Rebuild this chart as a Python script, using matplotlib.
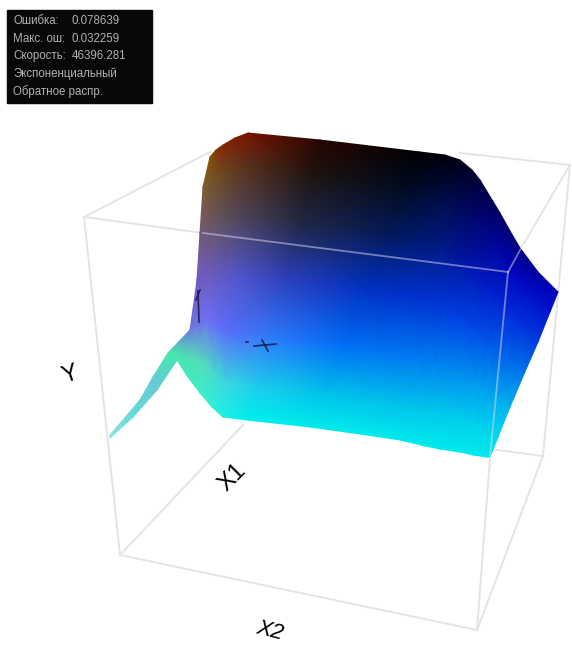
import numpy as np
import matplotlib
matplotlib.use('Agg')
import matplotlib.pyplot as plt

# info panel lines
info_labels = ['Ошибка:', 'Макс. ош:', 'Скорость:', 'Экспоненциальный', 'Обратное распр.']
info_values = ['0.078639', '0.032259', '46396.281', '', '']

# surface as seen on screen, one list per column, far edge first
surf_x = [
    [210, 203, 200, 197, 190, 168, 177],
    [216, 211, 208, 204, 198, 185, 188],
    [223, 220, 216, 212, 207, 203, 200],
    [235, 232, 228, 224, 218, 214, 212],
    [248, 245, 240, 236, 230, 226, 223],
    [320, 311, 298, 284, 269, 256, 247],
    [420, 407, 387, 365, 343, 323, 310],
    [445, 430, 414, 397, 380, 365, 360],
    [460, 453, 442, 430, 418, 407, 400],
    [472, 464, 455, 445, 435, 426, 425],
    [480, 475, 468, 460, 452, 445, 440],
    [500, 496, 490, 482, 475, 469, 465],
    [510, 505, 499, 491, 483, 477, 473],
    [520, 515, 508, 500, 492, 485, 480],
    [538, 532, 523, 512, 501, 491, 486],
    [558, 550, 538, 524, 510, 498, 490],
]
surf_y = [
    [157, 187, 233, 280, 330, 353, 360],
    [150, 181, 226, 274, 325, 358, 377],
    [145, 175, 219, 269, 319, 363, 393],
    [138, 171, 218, 272, 325, 373, 407],
    [133, 167, 218, 275, 332, 383, 417],
    [140, 174, 224, 280, 336, 386, 420],
    [152, 185, 234, 290, 345, 394, 427],
    [155, 189, 239, 295, 350, 400, 434],
    [160, 194, 244, 300, 356, 406, 440],
    [170, 203, 252, 307, 362, 411, 446],
    [180, 212, 261, 314, 368, 417, 449],
    [213, 242, 285, 333, 381, 424, 453],
    [231, 257, 297, 342, 387, 427, 455],
    [248, 273, 310, 352, 394, 431, 456],
    [272, 292, 326, 363, 400, 434, 457],
    [292, 312, 342, 374, 407, 437, 457],
]
surf_r = [
    [135, 125, 115, 115, 110, 70, 70],
    [132, 117, 107, 110, 110, 78, 65],
    [130, 110, 100, 105, 110, 85, 60],
    [125, 100, 90, 95, 97, 72, 45],
    [120, 90, 80, 85, 85, 60, 30],
    [40, 30, 35, 45, 50, 30, 0],
    [0, 0, 5, 0, 0, 0, 0],
    [0, 0, 0, 0, 0, 0, 0],
    [0, 0, 0, 0, 0, 0, 0],
    [0, 0, 0, 0, 0, 0, 0],
    [0, 0, 0, 0, 0, 0, 0],
    [0, 0, 0, 0, 0, 0, 0],
    [0, 0, 0, 0, 0, 0, 0],
    [0, 0, 0, 0, 0, 0, 0],
    [0, 0, 0, 0, 0, 0, 0],
    [0, 0, 0, 0, 0, 0, 0],
]
surf_g = [
    [85, 95, 90, 90, 120, 235, 225],
    [62, 85, 87, 90, 115, 227, 232],
    [40, 75, 85, 90, 110, 220, 240],
    [30, 62, 77, 87, 110, 217, 240],
    [20, 50, 70, 85, 110, 215, 240],
    [5, 20, 40, 65, 120, 205, 240],
    [0, 10, 25, 50, 110, 195, 235],
    [0, 10, 25, 50, 115, 195, 235],
    [0, 10, 25, 50, 120, 195, 235],
    [0, 7, 22, 55, 127, 200, 235],
    [0, 5, 20, 60, 135, 205, 235],
    [0, 5, 25, 75, 150, 210, 235],
    [0, 5, 32, 85, 157, 212, 235],
    [0, 5, 40, 95, 165, 215, 235],
    [0, 12, 50, 107, 172, 215, 235],
    [0, 20, 60, 120, 180, 215, 235],
]
surf_b = [
    [0, 50, 115, 200, 220, 170, 190],
    [2, 42, 102, 190, 232, 177, 195],
    [5, 35, 90, 180, 245, 185, 200],
    [2, 32, 90, 190, 247, 205, 215],
    [0, 30, 90, 200, 250, 225, 230],
    [0, 15, 70, 190, 250, 235, 235],
    [5, 30, 90, 195, 245, 235, 235],
    [12, 50, 110, 202, 242, 235, 235],
    [20, 70, 130, 210, 240, 235, 235],
    [40, 85, 147, 217, 240, 235, 235],
    [60, 100, 165, 225, 240, 235, 235],
    [100, 150, 200, 230, 240, 235, 235],
    [115, 170, 207, 232, 240, 235, 235],
    [130, 190, 215, 235, 240, 235, 235],
    [160, 197, 220, 235, 240, 235, 235],
    [190, 205, 225, 235, 240, 235, 235],
]

# thin tail on the left of the surface
tail_x = [[110, 140, 153, 168], [110, 133, 157, 177]]
tail_y = [[435, 400, 377, 353], [438, 417, 390, 360]]
tail_r = [[150, 105, 100, 70], [130, 90, 110, 70]]
tail_g = [[225, 210, 205, 235], [230, 225, 200, 225]]
tail_b = [[220, 215, 210, 170], [220, 215, 215, 190]]

# bounding box edges behind and in front of the surface
back_edges = [
    ((84, 217), (210, 152)),
    ((460, 153), (570, 165)),
    ((570, 165), (543, 456)),
    ((490, 449), (543, 456)),
    ((120, 555), (243, 425)),
    ((84, 217), (120, 555)),
    ((120, 555), (477, 630)),
    ((477, 630), (543, 456)),
    ((84, 217), (203, 233)),
    ((490, 458), (477, 630)),
    ((524, 243), (570, 165)),
]
front_edges = [
    ((203, 233), (508, 272)),
    ((508, 272), (490, 457)),
    ((508, 272), (524, 243)),
]

# dark specks on the surface
specks = [
    ((198, 291), (199, 322)),
    ((196, 300), (200, 290)),
    ((254, 346), (276, 344)),
    ((262, 340), (268, 351)),
    ((246, 342), (248, 342)),
]


def rgb(r, g, b):
    return np.dstack([r, g, b]) / 255.0


fig = plt.figure(figsize=(5.72, 6.45), dpi=100)
ax = fig.add_axes([0, 0, 1, 1])
ax.set_xlim(0, 572)
ax.set_ylim(645, 0)
ax.axis('off')

for a, b in back_edges:
    ax.plot([a[0], b[0]], [a[1], b[1]], color='#e4e4e6', lw=1.4, zorder=1)

ax.pcolormesh(np.array(tail_x), np.array(tail_y), rgb(tail_r, tail_g, tail_b),
              shading='gouraud', zorder=2)
ax.pcolormesh(np.array(surf_x), np.array(surf_y), rgb(surf_r, surf_g, surf_b),
              shading='gouraud', zorder=3)

for a, b in front_edges:
    ax.plot([a[0], b[0]], [a[1], b[1]], color='#dcdcf0', alpha=0.5, lw=1.3, zorder=4)
for a, b in specks:
    ax.plot([a[0], b[0]], [a[1], b[1]], color='#101850', alpha=0.85, lw=1.2, zorder=5)

# axis names
ax.text(70, 375, 'Y', fontsize=17, rotation=18, ha='center', va='center',
        family='Liberation Sans')
ax.text(232, 478, 'X1', fontsize=17, rotation=45, ha='center', va='center',
        family='Liberation Sans')
ax.text(270, 631, 'X2', fontsize=16, rotation=-14, style='italic', ha='center', va='center',
        family='Liberation Sans')

# info panel
ax.fill([7, 152, 152, 7], [10, 10, 103, 103], color='#080808', zorder=6)
for i, s in enumerate(info_labels):
    ax.text(13, 21 + i * 17.7, s, color='#b0b0b0', fontsize=8.3, va='center',
            family='Liberation Sans', zorder=7)
    ax.text(72, 21 + i * 17.7, info_values[i], color='#b0b0b0', fontsize=8.3, va='center',
            family='Liberation Sans', zorder=7)

fig.savefig('out.png', dpi=100)
